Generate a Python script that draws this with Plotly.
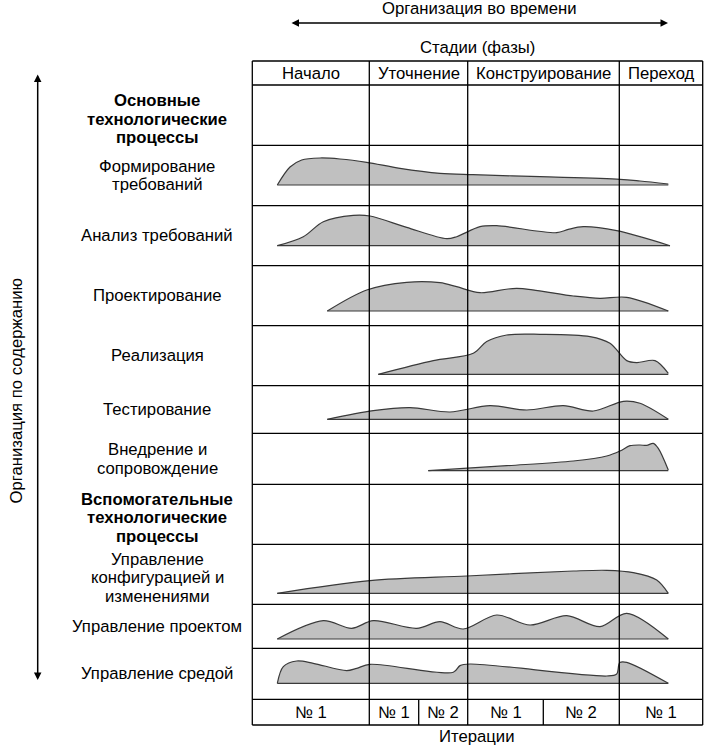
import plotly.graph_objects as go

# ---------------- data ----------------
phase_names = ["Начало", "Уточнение", "Конструирование", "Переход"]
phase_bounds = [0, 117, 215.4, 367, 450.4]          # time units
iter_labels = ["№ 1", "№ 1", "№ 2", "№ 1", "№ 2", "№ 1"]
iter_bounds = [0, 117, 166.4, 215.4, 291, 367, 450.4]

row_labels = [
    ["Основные", "технологические", "процессы"],
    ["Формирование", "требований"],
    ["Анализ требований"],
    ["Проектирование"],
    ["Реализация"],
    ["Тестирование"],
    ["Внедрение и", "сопровождение"],
    ["Вспомогательные", "технологические", "процессы"],
    ["Управление", "конфигурацией и", "изменениями"],
    ["Управление проектом"],
    ["Управление средой"],
]
bold_rows = [0, 7]

# effort profiles (time, effort) per discipline
req_t = [25, 37.7, 49.4, 67.7, 87.7, 114.4, 147.7, 187.7, 220.7, 287.7, 367.7, 387.7, 416]
req_h = [0, 18, 25, 27, 26, 22.7, 16.7, 11.7, 10.3, 8.3, 5.7, 4, 1]

ana_t = [25, 51, 71, 101, 117.7, 154.4, 194.4, 204.4, 227.7, 244.4, 304.4, 316, 331, 364.4, 417.7]
ana_h = [0, 9, 24, 30.3, 29.7, 18.3, 7, 9, 19, 20, 13, 16.3, 19, 15, 0]

des_t = [75, 114.4, 154.4, 187.7, 204.4, 227.7, 264.4, 321, 347.7, 374.4, 416]
des_h = [0, 21, 28.7, 28.3, 24.3, 18.3, 22.7, 15, 12.7, 13.7, 0]

imp_t = [126, 181, 221, 234.4, 254.4, 287.7, 337.7, 357.7, 374.4, 384.4, 402.7, 416]
imp_h = [0, 13.7, 21, 32.7, 39.3, 40, 37.7, 31, 13.7, 11.7, 13.7, 1]

tst_t = [75, 121, 157.7, 197.7, 237.7, 274.4, 311, 341, 371, 387.7, 416]
tst_h = [0, 8.7, 11.7, 7.3, 13.7, 9.3, 13.7, 8.3, 18, 16, 0]

dep_t = [176, 254.4, 321, 354.4, 367.7, 377.7, 387.7, 394.4, 401, 406, 416]
dep_h = [0, 5, 9.7, 14.7, 19.7, 25, 25.7, 25.3, 27.3, 22.3, 0.7]

cfg_t = [25, 117.7, 214.4, 321, 354.4, 381, 404.4, 416]
cfg_h = [0, 12.7, 17.3, 22.3, 23, 20.7, 13.3, 0]

pm_t = [25, 71, 99.4, 121, 164.4, 187.7, 211, 244.4, 277.7, 314.4, 347.7, 374.4, 416]
pm_h = [0, 18.3, 10.7, 18.3, 10.7, 17.3, 10, 24, 14, 23.3, 12.3, 25.7, 0]

env_t = [25, 31, 44.4, 61, 94.4, 104.4, 117.7, 201, 207.7, 217.7, 354.4, 364.4, 367.4, 374.4, 416]
env_h = [0, 16.7, 22.3, 20, 12.7, 15, 19, 11, 17.7, 19.3, 7.3, 9.3, 20.7, 21, 0]

humps = {1: (req_t, req_h), 2: (ana_t, ana_h), 3: (des_t, des_h), 4: (imp_t, imp_h),
         5: (tst_t, tst_h), 6: (dep_t, dep_h), 8: (cfg_t, cfg_h), 9: (pm_t, pm_h),
         10: (env_t, env_h)}

# ---------------- layout geometry (pixels) ----------------
W, H = 708, 748
X0 = 252.3                      # left edge of table
header_top, header_bot = 61, 85
row_edges = [85, 145.3, 205.7, 265.7, 325.7, 385.7, 433.3, 484.3, 544.3, 604.3, 648.3, 699.3]
iter_bot = 725
base_off = {1: 20.7, 2: 20, 3: 14.7, 4: 11.4, 5: 14, 6: 13.6, 8: 11, 9: 9.3, 10: 16}
label_dy = {0: 4, 7: 3.5, 8: 3.5}
LSP = 18.7

FONT = "Liberation Sans, Arial, sans-serif"
FS = 16.7
LINE = "#000000"
FILL = "#c0c0c0"
EDGE = "#3a3a3a"

fig = go.Figure()

# humps
for r, (t, h) in humps.items():
    base = row_edges[r + 1] - base_off[r]
    fig.add_trace(go.Scatter(x=[t[0], t[-1]], y=[base, base], mode="lines",
                             line=dict(color=EDGE, width=1.2), hoverinfo="skip",
                             showlegend=False))
    fig.add_trace(go.Scatter(x=t, y=[base - v for v in h], mode="lines",
                             line=dict(color=EDGE, width=1.2, shape="spline", smoothing=0.9),
                             fill="tonexty", fillcolor=FILL, hoverinfo="skip",
                             showlegend=False))

shapes = []
L, R = 0, phase_bounds[-1]
lw = 1.3
for y in [header_top, header_bot] + row_edges[1:] + [iter_bot]:
    shapes.append(dict(type="line", x0=L, x1=R, y0=y, y1=y, line=dict(color=LINE, width=lw)))
for xb in phase_bounds:
    shapes.append(dict(type="line", x0=xb, x1=xb, y0=header_top, y1=iter_bot,
                       line=dict(color=LINE, width=lw)))
for xb in iter_bounds:
    if xb not in phase_bounds:
        shapes.append(dict(type="line", x0=xb, x1=xb, y0=row_edges[-1], y1=iter_bot,
                           line=dict(color=LINE, width=lw)))

ann = []
def txt(x, y, s, size=FS, **kw):
    ann.append(dict(x=x, y=y, text=s, showarrow=False, xref="x", yref="y",
                    font=dict(family=FONT, size=size, color="#000"), **kw))

for i, nm in enumerate(phase_names):
    txt((phase_bounds[i] + phase_bounds[i + 1]) / 2, (header_top + header_bot) / 2, nm)
for i, nm in enumerate(iter_labels):
    txt((iter_bounds[i] + iter_bounds[i + 1]) / 2, (row_edges[-1] + iter_bot) / 2, nm)

lab_x = 157 - X0
for r, lines in enumerate(row_labels):
    yc = (row_edges[r] + row_edges[r + 1]) / 2 + label_dy.get(r, 0)
    n = len(lines)
    for k, s in enumerate(lines):
        s2 = f"<b>{s}</b>" if r in bold_rows else s
        txt(lab_x, yc + (k - (n - 1) / 2) * LSP, s2)

txt(479 - X0, 8, "Организация во времени")
txt(477 - X0, 47, "Стадии (фазы)")
txt(477 - X0, 736, "Итерации")
txt(16 - X0, 391.5, "Организация по содержанию", textangle=-90)

# arrows
ann.append(dict(x=668 - X0, y=23, ax=290 - X0, ay=23, xref="x", yref="y", axref="x", ayref="y",
                text="", showarrow=True, arrowhead=2, arrowside="end+start",
                arrowsize=1, arrowwidth=1.5, arrowcolor="#000"))
ann.append(dict(x=37.7 - X0, y=680, ax=37.7 - X0, ay=73, xref="x", yref="y", axref="x", ayref="y",
                text="", showarrow=True, arrowhead=2, arrowside="end+start",
                arrowsize=1, arrowwidth=1.5, arrowcolor="#000"))

fig.update_layout(
    width=W, height=H, margin=dict(l=0, r=0, t=0, b=0),
    paper_bgcolor="white", plot_bgcolor="white",
    xaxis=dict(range=[-X0, W - X0], visible=False, fixedrange=True),
    yaxis=dict(range=[H, 0], visible=False, fixedrange=True),
    shapes=shapes, annotations=ann, showlegend=False,
)

fig.write_html("out.html", config={"displayModeBar": False},
               post_script="document.body.style.margin='0px';document.body.style.overflow='hidden';")
